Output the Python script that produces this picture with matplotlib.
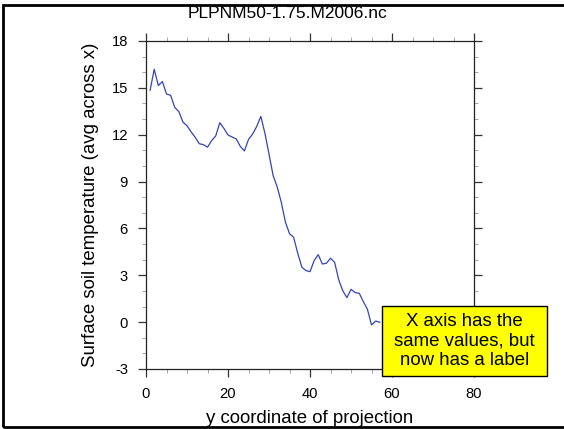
import numpy as np
import matplotlib.pyplot as plt
from matplotlib.patches import Rectangle
from matplotlib.ticker import MultipleLocator

plt.rcParams['font.family'] = ['Liberation Sans', 'DejaVu Sans']
plt.rcParams['axes.unicode_minus'] = False

# y coordinate of projection (grid index)
y_coord = np.arange(1, 58)

# surface soil temperature averaged across x
soil_temp = [
    14.85, 16.19, 15.15, 15.40, 14.60, 14.52, 13.75, 13.48, 12.81, 12.57,
    12.18, 11.83, 11.42, 11.36, 11.20, 11.62, 11.92, 12.77, 12.40, 11.98,
    11.85, 11.73, 11.25, 10.96, 11.70, 12.04, 12.53, 13.17, 12.09, 10.75,
    9.38, 8.65, 7.66, 6.40, 5.66, 5.43, 4.41, 3.52, 3.30, 3.23,
    3.94, 4.32, 3.72, 3.77, 4.09, 3.83, 2.70, 2.00, 1.57, 2.10,
    1.89, 1.85, 1.31, 0.82, -0.18, 0.07, -0.01,
]

title = "PLPNM50-1.75.M2006.nc"
xlabel = "y coordinate of projection"
ylabel = "Surface soil temperature (avg across x)"
note = "X axis has the\nsame values, but\nnow has a label"

fig = plt.figure(figsize=(5.64, 4.29), dpi=100)
ax = fig.add_axes([0.2589, 0.1399, 0.5816, 0.7646])

ax.plot(y_coord, soil_temp, color='#3344bb', lw=0.9)

ax.set_xlim(0, 80)
ax.set_ylim(-3, 18)
ax.xaxis.set_major_locator(MultipleLocator(20))
ax.xaxis.set_minor_locator(MultipleLocator(5))
ax.yaxis.set_major_locator(MultipleLocator(3))
ax.yaxis.set_minor_locator(MultipleLocator(1))

for s in ax.spines.values():
    s.set_linewidth(0.9)
    s.set_color('#222222')

ax.tick_params(which='both', direction='out', top=True, right=True,
               labelsize=10.6, colors='#333333', labelcolor='black')
ax.tick_params(which='major', length=6, width=0.9, pad=7)
ax.tick_params(which='minor', length=3, width=0.6, colors='#999999')

ax.set_xlabel(xlabel, fontsize=13.4, va='baseline')
ax.xaxis.set_label_coords(0.5, -0.1646)
ax.set_ylabel(ylabel, fontsize=13.4, va='center')
ax.yaxis.set_label_coords(-0.168, 0.5)

fig.text(0.509, 0.958, title, fontsize=12.5, ha='center', va='baseline')

# note box
fig.patches.append(Rectangle((0.677, 0.1235), 0.293, 0.1635,
                             transform=fig.transFigure, facecolor='#ffff00',
                             edgecolor='black', lw=1.0, zorder=5))
fig.text(0.8235, 0.205, note, fontsize=13.4, ha='center', va='center',
         linespacing=1.2, zorder=6)

# frame around the slide
fig.patches.append(Rectangle((0.0053, 0.0047), 1.2, 0.9837,
                             transform=fig.transFigure, fill=False,
                             edgecolor='black', lw=2.0, zorder=7))

fig.savefig('out.png', dpi=100)
